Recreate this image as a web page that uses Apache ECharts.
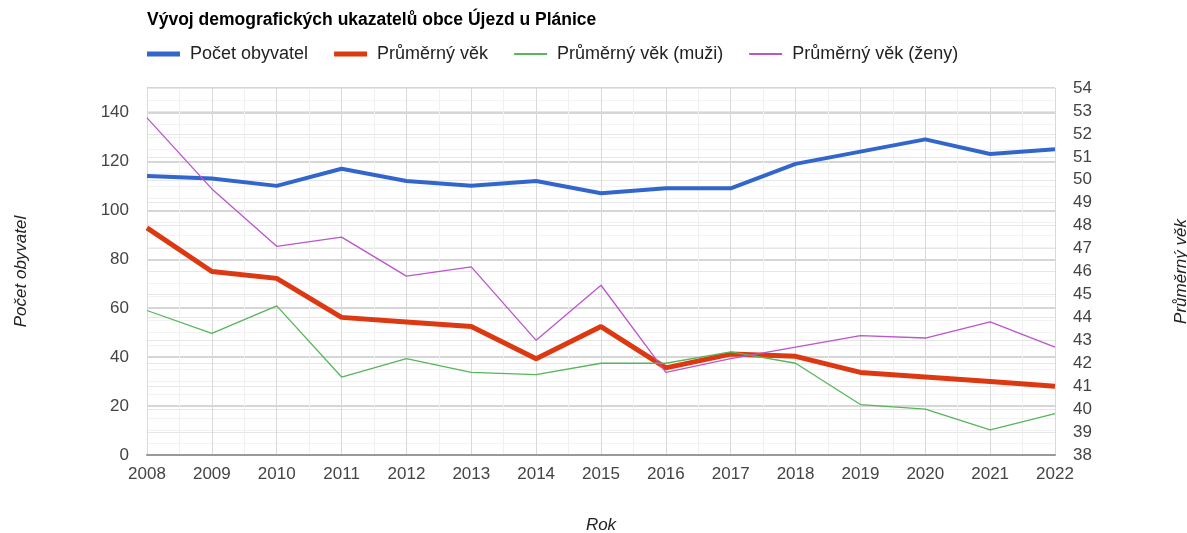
<!DOCTYPE html>
<html>
<head>
<meta charset="utf-8">
<script src="https://cdn.jsdelivr.net/npm/echarts@6/dist/echarts.min.js"></script>
<style>
  html, body { margin: 0; padding: 0; background: #fff; }
  #chart { width: 1187px; height: 533px; }
</style>
</head>
<body>
<div id="chart"></div>
<script>
// data
var years = [2008, 2009, 2010, 2011, 2012, 2013, 2014, 2015, 2016, 2017, 2018, 2019, 2020, 2021, 2022];
var pocetObyvatel = [114, 113, 110, 117, 112, 110, 112, 107, 109, 109, 119, 124, 129, 123, 125];
var prumernyVek = [47.9, 46.0, 45.7, 44.0, 43.8, 43.6, 42.2, 43.6, 41.8, 42.4, 42.3, 41.6, 41.4, 41.2, 41.0];
var vekMuzi = [44.3, 43.3, 44.5, 41.4, 42.2, 41.6, 41.5, 42.0, 42.0, 42.5, 42.0, 40.2, 40.0, 39.1, 39.8];
var vekZeny = [52.7, 49.6, 47.1, 47.5, 45.8, 46.2, 43.0, 45.4, 41.6, 42.2, 42.7, 43.2, 43.1, 43.8, 42.7];

function pairs(arr) {
    return years.map(function (y, i) { return [y, arr[i]]; });
}

var font = 'Arial, "Liberation Sans", sans-serif';
var thick = 'path://M0,0h33v5h-33z';
var thin = 'path://M0,0h33v2h-33z';

var option = {
    animation: false,
    title: {
        text: 'Vývoj demografických ukazatelů obce Újezd u Plánice',
        left: 142,
        top: 6,
        textStyle: { fontFamily: font, fontSize: 17.5, fontWeight: 'bold', color: '#000' }
    },
    legend: {
        left: 142,
        top: 40,
        itemWidth: 33,
        itemHeight: 10,
        itemGap: 26,
        textStyle: { fontFamily: font, fontSize: 18, color: '#222', padding: [0, 0, 0, 5] },
        data: [
            { name: 'Počet obyvatel', icon: thick },
            { name: 'Průměrný věk', icon: thick },
            { name: 'Průměrný věk (muži)', icon: thin },
            { name: 'Průměrný věk (ženy)', icon: thin }
        ]
    },
    grid: { left: 147, right: 132, top: 88, bottom: 78, outerBoundsMode: 'none' },
    xAxis: {
        type: 'value',
        min: 2008,
        max: 2022,
        interval: 1,
        name: 'Rok',
        nameLocation: 'middle',
        nameGap: 62,
        nameTextStyle: { fontFamily: font, fontSize: 17, fontStyle: 'italic', color: '#222' },
        axisLine: { show: true, lineStyle: { color: '#999', width: 2 } },
        axisTick: { show: false },
        axisLabel: {
            fontFamily: font, fontSize: 17, color: '#444', margin: 11,
            formatter: function (v) { return String(v); }
        },
        splitLine: { show: true, lineStyle: { color: '#d9d9d9' } },
        minorTick: { show: false, splitNumber: 2 },
        minorSplitLine: { show: true, lineStyle: { color: '#f0f0f0' } }
    },
    yAxis: [
        {
            type: 'value',
            min: 0,
            max: 150,
            interval: 20,
            name: 'Počet obyvatel',
            nameLocation: 'middle',
            nameRotate: 90,
            nameGap: 117,
            nameTextStyle: { fontFamily: font, fontSize: 17, fontStyle: 'italic', color: '#222' },
            axisLine: { show: false },
            axisTick: { show: false },
            axisLabel: { fontFamily: font, fontSize: 17, color: '#444', margin: 18, showMaxLabel: false },
            splitLine: { show: true, lineStyle: { color: '#d6d6d6', width: 2 } },
            minorTick: { show: false, splitNumber: 4 },
            minorSplitLine: { show: true, lineStyle: { color: '#f2f2f2' } }
        },
        {
            type: 'value',
            min: 38,
            max: 54,
            interval: 1,
            name: 'Průměrný věk',
            nameLocation: 'middle',
            nameRotate: 90,
            nameGap: 118,
            nameTextStyle: { fontFamily: font, fontSize: 17, fontStyle: 'italic', color: '#222' },
            axisLine: { show: false },
            axisTick: { show: false },
            axisLabel: { fontFamily: font, fontSize: 17, color: '#444', margin: 18 },
            splitLine: { show: true, lineStyle: { color: '#e6e6e6' } }
        }
    ],
    series: [
        {
            name: 'Počet obyvatel',
            type: 'line',
            yAxisIndex: 0,
            symbol: 'none',
            color: '#3366cc',
            lineStyle: { width: 4 },
            data: pairs(pocetObyvatel)
        },
        {
            name: 'Průměrný věk',
            type: 'line',
            yAxisIndex: 1,
            symbol: 'none',
            color: '#dc3912',
            lineStyle: { width: 5 },
            data: pairs(prumernyVek)
        },
        {
            name: 'Průměrný věk (muži)',
            type: 'line',
            yAxisIndex: 1,
            symbol: 'none',
            color: '#57b55a',
            lineStyle: { width: 1.3 },
            data: pairs(vekMuzi)
        },
        {
            name: 'Průměrný věk (ženy)',
            type: 'line',
            yAxisIndex: 1,
            symbol: 'none',
            color: '#bb55cc',
            lineStyle: { width: 1.3 },
            data: pairs(vekZeny)
        }
    ]
};

var myChart = echarts.init(document.getElementById('chart'));
myChart.setOption(option);
</script>
</body>
</html>
